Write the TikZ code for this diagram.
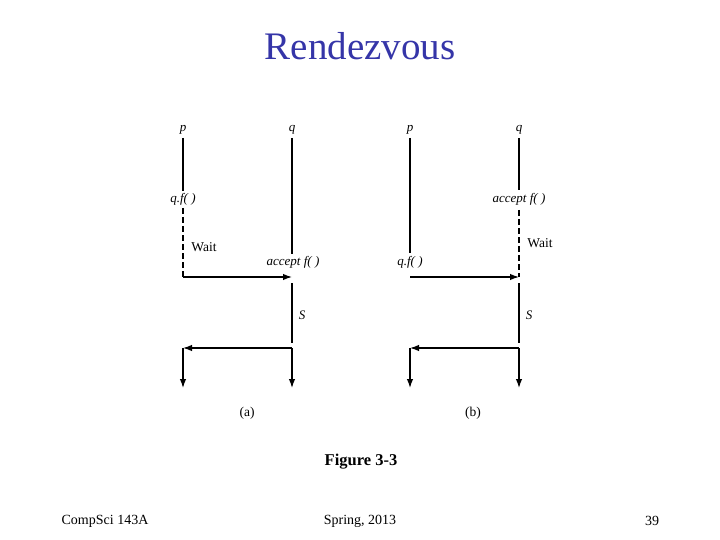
\documentclass[tikz,border=0pt]{standalone}
\usepackage{fontspec}
\setmainfont{Liberation Serif}
\usetikzlibrary{arrows.meta}
\definecolor{titleblue}{HTML}{3535A8}
\tikzset{
  life/.style={line width=1.3pt},
  waitline/.style={line width=1.1pt, dash pattern=on 6pt off 3pt},
  msg/.style={line width=1.3pt, -{Latex[length=9pt,width=6.5pt]}},
  lbl/.style={font=\fontsize{13}{15}\selectfont\itshape, inner sep=1pt},
  wlbl/.style={font=\fontsize{13.5}{15}\selectfont, inner sep=1pt},
  foot/.style={font=\fontsize{14}{16}\selectfont, inner sep=0pt}
}
\begin{document}
\begin{tikzpicture}[x=1pt,y=-1pt]
\useasboundingbox (0,0) rectangle (720,540);
\node[font=\fontsize{39}{44}\selectfont, text=titleblue] (title) at (360,46) {Rendezvous};

% ---------- (a)
\node[lbl] (ap) at (183,130) {p};
\node[lbl] (aq) at (292,130) {q};
\coordinate (ap1) at (183,138);
\coordinate (ap2) at (183,191);
\node[lbl] (acall) at (183,199) {q.f( )};
\coordinate (ap3) at (183,208);
\coordinate (ap4) at (183,277);
\node[wlbl] (await) at (204,247) {Wait};
\coordinate (aq1) at (292,138);
\coordinate (aq2) at (292,254);
\node[lbl] (aacc) at (293,262) {accept f( )};
\coordinate (aq3) at (292,277);
\coordinate (aq4) at (292,283);
\coordinate (aq5) at (292,343);
\node[lbl] (aS) at (302,315) {S};
\coordinate (aq6) at (292,348);
\coordinate (aq7) at (292,388);
\coordinate (ap6) at (183,348);
\coordinate (ap7) at (183,388);
\node[wlbl] (alab) at (247,413) {(a)};
\draw[life] (ap1) -- (ap2);
\draw[waitline] (ap3) -- (ap4);
\draw[msg] (ap4) -- (aq3);
\draw[life] (aq1) -- (aq2);
\draw[life] (aq4) -- (aq5);
\draw[msg] (aq6) -- (ap6);
\draw[msg] (ap6) -- (ap7);
\draw[msg] (aq6) -- (aq7);

% ---------- (b)
\node[lbl] (bp) at (410,130) {p};
\node[lbl] (bq) at (519,130) {q};
\coordinate (bp1) at (410,138);
\coordinate (bp2) at (410,253);
\node[lbl] (bcall) at (410,262) {q.f( )};
\coordinate (bp4) at (410,277);
\coordinate (bq1) at (519,138);
\coordinate (bq2) at (519,190);
\node[lbl] (bacc) at (519,199) {accept f( )};
\coordinate (bq3) at (519,210);
\coordinate (bq4) at (519,277);
\node[wlbl] (bwait) at (540,243) {Wait};
\coordinate (bq5) at (519,283);
\coordinate (bq6) at (519,343);
\node[lbl] (bS) at (529,315) {S};
\coordinate (bq7) at (519,348);
\coordinate (bq8) at (519,388);
\coordinate (bp6) at (410,348);
\coordinate (bp7) at (410,388);
\node[wlbl] (blab) at (473,413) {(b)};
\draw[life] (bp1) -- (bp2);
\draw[msg] (bp4) -- (bq4);
\draw[life] (bq1) -- (bq2);
\draw[waitline] (bq3) -- (bq4);
\draw[life] (bq5) -- (bq6);
\draw[msg] (bq7) -- (bp6);
\draw[msg] (bp6) -- (bp7);
\draw[msg] (bq7) -- (bq8);

% ---------- captions and footer
\node[font=\fontsize{16.5}{18}\selectfont\bfseries] (fig) at (361,462) {Figure 3-3};
\node[foot] (f1) at (105,521) {CompSci 143A};
\node[foot] (f2) at (360,521) {Spring, 2013};
\node[foot] (f3) at (652,521) {39};
\end{tikzpicture}
\end{document}
